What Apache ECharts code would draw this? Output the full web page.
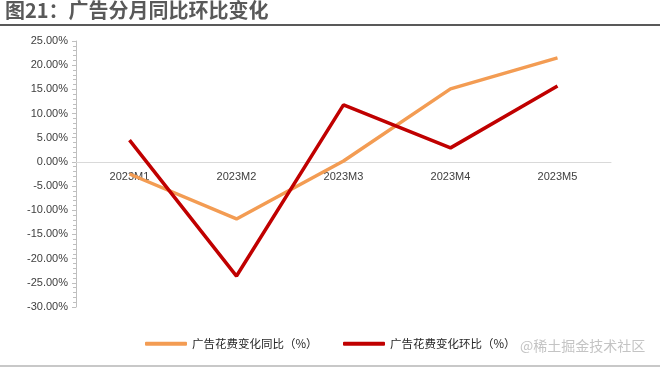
<!DOCTYPE html>
<html>
<head>
<meta charset="utf-8">
<script src="https://cdn.jsdelivr.net/npm/echarts@6/dist/echarts.min.js"></script>
<style>html,body{margin:0;padding:0;background:#fff;}#c{width:660px;height:369px;}</style>
</head>
<body>
<div id="c"></div>
<script>
var titleText = '图21：广告分月同比环比变化';
var categories = ['2023M1', '2023M2', '2023M3', '2023M4', '2023M5'];
var seriesNames = ['广告花费变化同比（%）', '广告花费变化环比（%）'];
var yoyValues = [-2.5, -11.8, 0.2, 15.1, 21.5];
var momValues = [4.5, -23.6, 11.8, 2.9, 15.7];
var yTickMin = -30, yTickMax = 25, yTickStep = 5;
var watermark = '@稀土掘金技术社区';

var chart = echarts.init(document.getElementById('c'));
var font = '"Noto Sans CJK SC", "Noto Sans", sans-serif';
var gridTop = 41, gridBottom = 62, plotH = 369 - gridTop - gridBottom;
var zeroOffset = -plotH * (0 - yTickMin) / (yTickMax - yTickMin);
chart.setOption({
  animation: false,
  textStyle: { fontFamily: font },
  grid: { left: 76, right: 49, top: gridTop, bottom: gridBottom },
  graphic: [
    { type: 'text', left: 5, top: 0, style: { text: titleText, font: 'bold 20px ' + font, fill: '#595959' } },
    { type: 'line', shape: { x1: 0, y1: 25, x2: 660, y2: 25 }, style: { stroke: '#595959', lineWidth: 2 } },
    { type: 'line', shape: { x1: 0, y1: 366, x2: 660, y2: 366 }, style: { stroke: '#c8c8c8', lineWidth: 2 } },
    { type: 'text', left: 520, top: 339, style: { text: watermark, font: '14px ' + font, fill: '#c4c4c4' } }
  ],
  legend: [
    { data: [seriesNames[0]], left: 140, top: 333, itemWidth: 42, itemHeight: 4, icon: 'roundRect', itemGap: 3,
      textStyle: { fontSize: 11.5, color: '#262626', fontFamily: font } },
    { data: [seriesNames[1]], left: 338, top: 333, itemWidth: 42, itemHeight: 4, icon: 'roundRect', itemGap: 3,
      textStyle: { fontSize: 11.5, color: '#262626', fontFamily: font } }
  ],
  xAxis: {
    type: 'category',
    data: categories,
    boundaryGap: true,
    position: 'bottom',
    offset: zeroOffset,
    axisLine: { onZero: false, lineStyle: { color: '#d9d9d9', width: 1 } },
    axisTick: { show: false },
    axisLabel: { color: '#404040', fontSize: 11, margin: 10, fontFamily: '"Liberation Sans", sans-serif' },
    splitLine: { show: false }
  },
  yAxis: {
    type: 'value',
    min: yTickMin, max: yTickMax, interval: yTickStep,
    axisLine: { show: true, lineStyle: { color: '#bfbfbf' } },
    axisTick: { show: true, length: 4, lineStyle: { color: '#bfbfbf' } },
    minorTick: { show: true, splitNumber: 5, length: 3, lineStyle: { color: '#bfbfbf' } },
    splitLine: { show: false },
    axisLabel: { color: '#404040', fontSize: 11, margin: 8, fontFamily: '"Liberation Sans", sans-serif',
      formatter: function (v) { return v.toFixed(2) + '%'; } }
  },
  series: [
    { name: seriesNames[0], type: 'line', data: yoyValues, symbol: 'none', smooth: false,
      lineStyle: { width: 3.5, color: '#F39C53' }, itemStyle: { color: '#F39C53' } },
    { name: seriesNames[1], type: 'line', data: momValues, symbol: 'none', smooth: false,
      lineStyle: { width: 3.5, color: '#C00000' }, itemStyle: { color: '#C00000' } }
  ]
});
</script>
</body>
</html>
